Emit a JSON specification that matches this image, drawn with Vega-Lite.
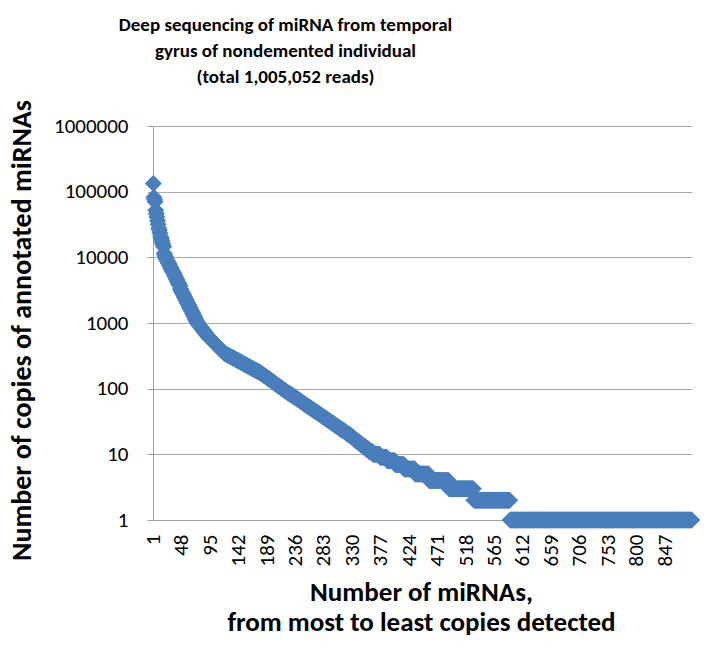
{
"$schema": "https://vega.github.io/schema/vega-lite/v6.json",
"width": 539,
"height": 394,
"autosize": {"type": "none"},
"padding": {"left": 153, "top": 126, "right": 22, "bottom": 126},
"background": "white",
"title": {"text": ["Deep sequencing of miRNA from temporal", "gyrus of nondemented individual", "(total 1,005,052 reads)"], "font": "Carlito, Lato, sans-serif", "fontSize": 19, "fontWeight": "bold", "color": "black", "lineHeight": 26, "anchor": "middle", "frame": "group", "dx": -137, "offset": 12},
"config": {"view": {"stroke": null}, "axis": {"labelFont": "Carlito, Lato, sans-serif", "labelColor": "black", "titleFont": "Carlito, Lato, sans-serif", "titleColor": "black", "titleFontWeight": "bold", "domainColor": "#A0A0A0", "tickColor": "#A0A0A0", "gridColor": "#A8A8A8", "gridOpacity": 1}},
"data": {"values": [
{"r":1,"v":133000},{"r":2,"v":82000},{"r":3,"v":76000},{"r":4,"v":70000},{"r":5,"v":52000},{"r":6,"v":46000},{"r":7,"v":41000},{"r":8,"v":36000},{"r":9,"v":32000},{"r":10,"v":28000},
{"r":11,"v":26000},{"r":12,"v":23500},{"r":13,"v":21000},{"r":14,"v":19500},{"r":15,"v":18000},{"r":16,"v":16500},{"r":17,"v":15500},{"r":18,"v":14500},{"r":19,"v":11500},{"r":20,"v":10800},
{"r":21,"v":10200},{"r":22,"v":9700},{"r":23,"v":9300},{"r":24,"v":8900},{"r":25,"v":8500},{"r":26,"v":8200},{"r":27,"v":7900},{"r":28,"v":7500},{"r":29,"v":7200},{"r":30,"v":6900},
{"r":31,"v":6600},{"r":32,"v":6400},{"r":33,"v":6100},{"r":34,"v":5900},{"r":35,"v":5650},{"r":36,"v":5400},{"r":37,"v":5150},{"r":38,"v":4900},{"r":39,"v":4700},{"r":40,"v":4500},
{"r":41,"v":4300},{"r":42,"v":4100},{"r":43,"v":3950},{"r":44,"v":3800},{"r":45,"v":3650},{"r":46,"v":3300},{"r":47,"v":3150},{"r":48,"v":3000},{"r":49,"v":2900},{"r":50,"v":2780},
{"r":51,"v":2660},{"r":52,"v":2550},{"r":53,"v":2450},{"r":54,"v":2350},{"r":55,"v":2250},{"r":56,"v":2150},{"r":57,"v":2070},{"r":58,"v":1980},{"r":59,"v":1900},{"r":60,"v":1830},
{"r":61,"v":1760},{"r":62,"v":1680},{"r":63,"v":1610},{"r":64,"v":1540},{"r":65,"v":1480},{"r":66,"v":1420},{"r":67,"v":1350},{"r":68,"v":1290},{"r":69,"v":1240},{"r":70,"v":1180},
{"r":71,"v":1130},{"r":72,"v":1080},{"r":73,"v":1040},{"r":74,"v":1000},{"r":75,"v":975},{"r":76,"v":950},{"r":77,"v":925},{"r":78,"v":900},{"r":79,"v":875},{"r":80,"v":850},
{"r":81,"v":830},{"r":82,"v":810},{"r":83,"v":790},{"r":84,"v":765},{"r":85,"v":745},{"r":86,"v":725},{"r":87,"v":705},{"r":88,"v":685},{"r":89,"v":665},{"r":90,"v":650},
{"r":91,"v":635},{"r":92,"v":620},{"r":93,"v":605},{"r":94,"v":590},{"r":95,"v":575},{"r":96,"v":563},{"r":97,"v":551},{"r":98,"v":540},{"r":99,"v":528},{"r":100,"v":517},
{"r":101,"v":506},{"r":102,"v":495},{"r":103,"v":484},{"r":104,"v":474},{"r":105,"v":464},{"r":106,"v":454},{"r":107,"v":444},{"r":108,"v":435},{"r":109,"v":426},{"r":110,"v":417},
{"r":111,"v":408},{"r":112,"v":399},{"r":113,"v":390},{"r":114,"v":382},{"r":115,"v":374},{"r":116,"v":366},{"r":117,"v":358},{"r":118,"v":351},{"r":119,"v":344},{"r":120,"v":340},
{"r":121,"v":336},{"r":122,"v":332},{"r":123,"v":328},{"r":124,"v":325},{"r":125,"v":321},{"r":126,"v":318},{"r":127,"v":314},{"r":128,"v":310},{"r":129,"v":307},{"r":130,"v":303},
{"r":131,"v":300},{"r":132,"v":296},{"r":133,"v":293},{"r":134,"v":290},{"r":135,"v":286},{"r":136,"v":283},{"r":137,"v":280},{"r":138,"v":277},{"r":139,"v":274},{"r":140,"v":271},
{"r":141,"v":268},{"r":142,"v":265},{"r":143,"v":262},{"r":144,"v":259},{"r":145,"v":256},{"r":146,"v":253},{"r":147,"v":250},{"r":148,"v":247},{"r":149,"v":244},{"r":150,"v":241},
{"r":151,"v":238},{"r":152,"v":236},{"r":153,"v":233},{"r":154,"v":230},{"r":155,"v":228},{"r":156,"v":225},{"r":157,"v":222},{"r":158,"v":220},{"r":159,"v":217},{"r":160,"v":215},
{"r":161,"v":212},{"r":162,"v":210},{"r":163,"v":207},{"r":164,"v":205},{"r":165,"v":203},{"r":166,"v":200},{"r":167,"v":198},{"r":168,"v":196},{"r":169,"v":193},{"r":170,"v":191},
{"r":171,"v":189},{"r":172,"v":187},{"r":173,"v":185},{"r":174,"v":183},{"r":175,"v":181},{"r":176,"v":179},{"r":177,"v":177},{"r":178,"v":174},{"r":179,"v":172},{"r":180,"v":169},
{"r":181,"v":167},{"r":182,"v":164},{"r":183,"v":162},{"r":184,"v":159},{"r":185,"v":157},{"r":186,"v":155},{"r":187,"v":152},{"r":188,"v":150},{"r":189,"v":148},{"r":190,"v":145},
{"r":191,"v":143},{"r":192,"v":141},{"r":193,"v":139},{"r":194,"v":137},{"r":195,"v":135},{"r":196,"v":133},{"r":197,"v":131},{"r":198,"v":129},{"r":199,"v":127},{"r":200,"v":125},
{"r":201,"v":123},{"r":202,"v":121},{"r":203,"v":119},{"r":204,"v":117},{"r":205,"v":115},{"r":206,"v":113},{"r":207,"v":112},{"r":208,"v":110},{"r":209,"v":108},{"r":210,"v":107},
{"r":211,"v":105},{"r":212,"v":103},{"r":213,"v":102},{"r":214,"v":100},{"r":215,"v":99},{"r":216,"v":97},{"r":217,"v":96},{"r":218,"v":94},{"r":219,"v":93},{"r":220,"v":92},
{"r":221,"v":90},{"r":222,"v":89},{"r":223,"v":87},{"r":224,"v":86},{"r":225,"v":85},{"r":226,"v":84},{"r":227,"v":83},{"r":228,"v":82},{"r":229,"v":81},{"r":230,"v":80},
{"r":231,"v":78},{"r":232,"v":77},{"r":233,"v":76},{"r":234,"v":75},{"r":235,"v":74},{"r":236,"v":73},{"r":237,"v":72},{"r":238,"v":71},{"r":239,"v":70},{"r":240,"v":69},
{"r":241,"v":68},{"r":242,"v":67},{"r":243,"v":66},{"r":244,"v":65},{"r":245,"v":64},{"r":246,"v":63},{"r":247,"v":62},{"r":248,"v":61},{"r":249,"v":60},{"r":250,"v":59},
{"r":251,"v":58},{"r":252,"v":58},{"r":253,"v":57},{"r":254,"v":56},{"r":255,"v":55},{"r":256,"v":54},{"r":257,"v":54},{"r":258,"v":53},{"r":259,"v":52},{"r":260,"v":51},
{"r":261,"v":51},{"r":262,"v":50},{"r":263,"v":49},{"r":264,"v":48},{"r":265,"v":48},{"r":266,"v":47},{"r":267,"v":46},{"r":268,"v":46},{"r":269,"v":45},{"r":270,"v":44},
{"r":271,"v":44},{"r":272,"v":43},{"r":273,"v":43},{"r":274,"v":42},{"r":275,"v":41},{"r":276,"v":41},{"r":277,"v":40},{"r":278,"v":40},{"r":279,"v":39},{"r":280,"v":38},
{"r":281,"v":38},{"r":282,"v":37},{"r":283,"v":37},{"r":284,"v":36},{"r":285,"v":36},{"r":286,"v":35},{"r":287,"v":35},{"r":288,"v":34},{"r":289,"v":34},{"r":290,"v":33},
{"r":291,"v":33},{"r":292,"v":32},{"r":293,"v":32},{"r":294,"v":31},{"r":295,"v":31},{"r":296,"v":30},{"r":297,"v":30},{"r":298,"v":30},{"r":299,"v":29},{"r":300,"v":29},
{"r":301,"v":28},{"r":302,"v":28},{"r":303,"v":27},{"r":304,"v":27},{"r":305,"v":27},{"r":306,"v":26},{"r":307,"v":26},{"r":308,"v":25},{"r":309,"v":25},{"r":310,"v":25},
{"r":311,"v":24},{"r":312,"v":24},{"r":313,"v":24},{"r":314,"v":23},{"r":315,"v":23},{"r":316,"v":23},{"r":317,"v":22},{"r":318,"v":22},{"r":319,"v":22},{"r":320,"v":21},
{"r":321,"v":21},{"r":322,"v":21},{"r":323,"v":20},{"r":324,"v":20},{"r":325,"v":20},{"r":326,"v":20},{"r":327,"v":19},{"r":328,"v":19},{"r":329,"v":19},{"r":330,"v":18},
{"r":331,"v":18},{"r":332,"v":18},{"r":333,"v":17},{"r":334,"v":17},{"r":335,"v":17},{"r":336,"v":16},{"r":337,"v":16},{"r":338,"v":16},{"r":339,"v":16},{"r":340,"v":15},
{"r":341,"v":15},{"r":342,"v":15},{"r":343,"v":15},{"r":344,"v":14},{"r":345,"v":14},{"r":346,"v":14},{"r":347,"v":14},{"r":348,"v":13},{"r":349,"v":13},{"r":350,"v":13},
{"r":351,"v":13},{"r":352,"v":13},{"r":353,"v":12},{"r":354,"v":12},{"r":355,"v":12},{"r":356,"v":12},{"r":357,"v":12},{"r":358,"v":11},{"r":359,"v":11},{"r":360,"v":11},
{"r":361,"v":11},{"r":362,"v":11},{"r":363,"v":11},{"r":364,"v":10},{"r":365,"v":10},{"r":366,"v":10},{"r":367,"v":10},{"r":368,"v":10},{"r":369,"v":10},{"r":370,"v":10},
{"r":371,"v":10},{"r":372,"v":10},{"r":373,"v":10},{"r":374,"v":10},{"r":375,"v":10},{"r":376,"v":9},{"r":377,"v":9},{"r":378,"v":9},{"r":379,"v":9},{"r":380,"v":9},
{"r":381,"v":9},{"r":382,"v":9},{"r":383,"v":9},{"r":384,"v":9},{"r":385,"v":9},{"r":386,"v":9},{"r":387,"v":9},{"r":388,"v":8},{"r":389,"v":8},{"r":390,"v":8},
{"r":391,"v":8},{"r":392,"v":8},{"r":393,"v":8},{"r":394,"v":8},{"r":395,"v":8},{"r":396,"v":8},{"r":397,"v":8},{"r":398,"v":8},{"r":399,"v":8},{"r":400,"v":8},
{"r":401,"v":7},{"r":402,"v":7},{"r":403,"v":7},{"r":404,"v":7},{"r":405,"v":7},{"r":406,"v":7},{"r":407,"v":7},{"r":408,"v":7},{"r":409,"v":7},{"r":410,"v":7},
{"r":411,"v":7},{"r":412,"v":7},{"r":413,"v":7},{"r":414,"v":7},{"r":415,"v":7},{"r":416,"v":6},{"r":417,"v":6},{"r":418,"v":6},{"r":419,"v":6},{"r":420,"v":6},
{"r":421,"v":6},{"r":422,"v":6},{"r":423,"v":6},{"r":424,"v":6},{"r":425,"v":6},{"r":426,"v":6},{"r":427,"v":6},{"r":428,"v":6},{"r":429,"v":6},{"r":430,"v":6},
{"r":431,"v":6},{"r":432,"v":6},{"r":433,"v":6},{"r":434,"v":5},{"r":435,"v":5},{"r":436,"v":5},{"r":437,"v":5},{"r":438,"v":5},{"r":439,"v":5},{"r":440,"v":5},
{"r":441,"v":5},{"r":442,"v":5},{"r":443,"v":5},{"r":444,"v":5},{"r":445,"v":5},{"r":446,"v":5},{"r":447,"v":5},{"r":448,"v":5},{"r":449,"v":5},{"r":450,"v":5},
{"r":451,"v":5},{"r":452,"v":5},{"r":453,"v":5},{"r":454,"v":5},{"r":455,"v":5},{"r":456,"v":5},{"r":457,"v":4},{"r":458,"v":4},{"r":459,"v":4},{"r":460,"v":4},
{"r":461,"v":4},{"r":462,"v":4},{"r":463,"v":4},{"r":464,"v":4},{"r":465,"v":4},{"r":466,"v":4},{"r":467,"v":4},{"r":468,"v":4},{"r":469,"v":4},{"r":470,"v":4},
{"r":471,"v":4},{"r":472,"v":4},{"r":473,"v":4},{"r":474,"v":4},{"r":475,"v":4},{"r":476,"v":4},{"r":477,"v":4},{"r":478,"v":4},{"r":479,"v":4},{"r":480,"v":4},
{"r":481,"v":4},{"r":482,"v":4},{"r":483,"v":4},{"r":484,"v":4},{"r":485,"v":4},{"r":486,"v":4},{"r":487,"v":4},{"r":488,"v":4},{"r":489,"v":4},{"r":490,"v":3},
{"r":491,"v":3},{"r":492,"v":3},{"r":493,"v":3},{"r":494,"v":3},{"r":495,"v":3},{"r":496,"v":3},{"r":497,"v":3},{"r":498,"v":3},{"r":499,"v":3},{"r":500,"v":3},
{"r":501,"v":3},{"r":502,"v":3},{"r":503,"v":3},{"r":504,"v":3},{"r":505,"v":3},{"r":506,"v":3},{"r":507,"v":3},{"r":508,"v":3},{"r":509,"v":3},{"r":510,"v":3},
{"r":511,"v":3},{"r":512,"v":3},{"r":513,"v":3},{"r":514,"v":3},{"r":515,"v":3},{"r":516,"v":3},{"r":517,"v":3},{"r":518,"v":3},{"r":519,"v":3},{"r":520,"v":3},
{"r":521,"v":3},{"r":522,"v":3},{"r":523,"v":3},{"r":524,"v":3},{"r":525,"v":3},{"r":526,"v":3},{"r":527,"v":3},{"r":528,"v":3},{"r":529,"v":3},{"r":530,"v":3},
{"r":531,"v":2},{"r":532,"v":2},{"r":533,"v":2},{"r":534,"v":2},{"r":535,"v":2},{"r":536,"v":2},{"r":537,"v":2},{"r":538,"v":2},{"r":539,"v":2},{"r":540,"v":2},
{"r":541,"v":2},{"r":542,"v":2},{"r":543,"v":2},{"r":544,"v":2},{"r":545,"v":2},{"r":546,"v":2},{"r":547,"v":2},{"r":548,"v":2},{"r":549,"v":2},{"r":550,"v":2},
{"r":551,"v":2},{"r":552,"v":2},{"r":553,"v":2},{"r":554,"v":2},{"r":555,"v":2},{"r":556,"v":2},{"r":557,"v":2},{"r":558,"v":2},{"r":559,"v":2},{"r":560,"v":2},
{"r":561,"v":2},{"r":562,"v":2},{"r":563,"v":2},{"r":564,"v":2},{"r":565,"v":2},{"r":566,"v":2},{"r":567,"v":2},{"r":568,"v":2},{"r":569,"v":2},{"r":570,"v":2},
{"r":571,"v":2},{"r":572,"v":2},{"r":573,"v":2},{"r":574,"v":2},{"r":575,"v":2},{"r":576,"v":2},{"r":577,"v":2},{"r":578,"v":2},{"r":579,"v":2},{"r":580,"v":2},
{"r":581,"v":2},{"r":582,"v":2},{"r":583,"v":2},{"r":584,"v":2},{"r":585,"v":2},{"r":586,"v":2},{"r":587,"v":2},{"r":588,"v":2},{"r":589,"v":2},{"r":590,"v":2},
{"r":591,"v":1},{"r":592,"v":1},{"r":593,"v":1},{"r":594,"v":1},{"r":595,"v":1},{"r":596,"v":1},{"r":597,"v":1},{"r":598,"v":1},{"r":599,"v":1},{"r":600,"v":1},
{"r":601,"v":1},{"r":602,"v":1},{"r":603,"v":1},{"r":604,"v":1},{"r":605,"v":1},{"r":606,"v":1},{"r":607,"v":1},{"r":608,"v":1},{"r":609,"v":1},{"r":610,"v":1},
{"r":611,"v":1},{"r":612,"v":1},{"r":613,"v":1},{"r":614,"v":1},{"r":615,"v":1},{"r":616,"v":1},{"r":617,"v":1},{"r":618,"v":1},{"r":619,"v":1},{"r":620,"v":1},
{"r":621,"v":1},{"r":622,"v":1},{"r":623,"v":1},{"r":624,"v":1},{"r":625,"v":1},{"r":626,"v":1},{"r":627,"v":1},{"r":628,"v":1},{"r":629,"v":1},{"r":630,"v":1},
{"r":631,"v":1},{"r":632,"v":1},{"r":633,"v":1},{"r":634,"v":1},{"r":635,"v":1},{"r":636,"v":1},{"r":637,"v":1},{"r":638,"v":1},{"r":639,"v":1},{"r":640,"v":1},
{"r":641,"v":1},{"r":642,"v":1},{"r":643,"v":1},{"r":644,"v":1},{"r":645,"v":1},{"r":646,"v":1},{"r":647,"v":1},{"r":648,"v":1},{"r":649,"v":1},{"r":650,"v":1},
{"r":651,"v":1},{"r":652,"v":1},{"r":653,"v":1},{"r":654,"v":1},{"r":655,"v":1},{"r":656,"v":1},{"r":657,"v":1},{"r":658,"v":1},{"r":659,"v":1},{"r":660,"v":1},
{"r":661,"v":1},{"r":662,"v":1},{"r":663,"v":1},{"r":664,"v":1},{"r":665,"v":1},{"r":666,"v":1},{"r":667,"v":1},{"r":668,"v":1},{"r":669,"v":1},{"r":670,"v":1},
{"r":671,"v":1},{"r":672,"v":1},{"r":673,"v":1},{"r":674,"v":1},{"r":675,"v":1},{"r":676,"v":1},{"r":677,"v":1},{"r":678,"v":1},{"r":679,"v":1},{"r":680,"v":1},
{"r":681,"v":1},{"r":682,"v":1},{"r":683,"v":1},{"r":684,"v":1},{"r":685,"v":1},{"r":686,"v":1},{"r":687,"v":1},{"r":688,"v":1},{"r":689,"v":1},{"r":690,"v":1},
{"r":691,"v":1},{"r":692,"v":1},{"r":693,"v":1},{"r":694,"v":1},{"r":695,"v":1},{"r":696,"v":1},{"r":697,"v":1},{"r":698,"v":1},{"r":699,"v":1},{"r":700,"v":1},
{"r":701,"v":1},{"r":702,"v":1},{"r":703,"v":1},{"r":704,"v":1},{"r":705,"v":1},{"r":706,"v":1},{"r":707,"v":1},{"r":708,"v":1},{"r":709,"v":1},{"r":710,"v":1},
{"r":711,"v":1},{"r":712,"v":1},{"r":713,"v":1},{"r":714,"v":1},{"r":715,"v":1},{"r":716,"v":1},{"r":717,"v":1},{"r":718,"v":1},{"r":719,"v":1},{"r":720,"v":1},
{"r":721,"v":1},{"r":722,"v":1},{"r":723,"v":1},{"r":724,"v":1},{"r":725,"v":1},{"r":726,"v":1},{"r":727,"v":1},{"r":728,"v":1},{"r":729,"v":1},{"r":730,"v":1},
{"r":731,"v":1},{"r":732,"v":1},{"r":733,"v":1},{"r":734,"v":1},{"r":735,"v":1},{"r":736,"v":1},{"r":737,"v":1},{"r":738,"v":1},{"r":739,"v":1},{"r":740,"v":1},
{"r":741,"v":1},{"r":742,"v":1},{"r":743,"v":1},{"r":744,"v":1},{"r":745,"v":1},{"r":746,"v":1},{"r":747,"v":1},{"r":748,"v":1},{"r":749,"v":1},{"r":750,"v":1},
{"r":751,"v":1},{"r":752,"v":1},{"r":753,"v":1},{"r":754,"v":1},{"r":755,"v":1},{"r":756,"v":1},{"r":757,"v":1},{"r":758,"v":1},{"r":759,"v":1},{"r":760,"v":1},
{"r":761,"v":1},{"r":762,"v":1},{"r":763,"v":1},{"r":764,"v":1},{"r":765,"v":1},{"r":766,"v":1},{"r":767,"v":1},{"r":768,"v":1},{"r":769,"v":1},{"r":770,"v":1},
{"r":771,"v":1},{"r":772,"v":1},{"r":773,"v":1},{"r":774,"v":1},{"r":775,"v":1},{"r":776,"v":1},{"r":777,"v":1},{"r":778,"v":1},{"r":779,"v":1},{"r":780,"v":1},
{"r":781,"v":1},{"r":782,"v":1},{"r":783,"v":1},{"r":784,"v":1},{"r":785,"v":1},{"r":786,"v":1},{"r":787,"v":1},{"r":788,"v":1},{"r":789,"v":1},{"r":790,"v":1},
{"r":791,"v":1},{"r":792,"v":1},{"r":793,"v":1},{"r":794,"v":1},{"r":795,"v":1},{"r":796,"v":1},{"r":797,"v":1},{"r":798,"v":1},{"r":799,"v":1},{"r":800,"v":1},
{"r":801,"v":1},{"r":802,"v":1},{"r":803,"v":1},{"r":804,"v":1},{"r":805,"v":1},{"r":806,"v":1},{"r":807,"v":1},{"r":808,"v":1},{"r":809,"v":1},{"r":810,"v":1},
{"r":811,"v":1},{"r":812,"v":1},{"r":813,"v":1},{"r":814,"v":1},{"r":815,"v":1},{"r":816,"v":1},{"r":817,"v":1},{"r":818,"v":1},{"r":819,"v":1},{"r":820,"v":1},
{"r":821,"v":1},{"r":822,"v":1},{"r":823,"v":1},{"r":824,"v":1},{"r":825,"v":1},{"r":826,"v":1},{"r":827,"v":1},{"r":828,"v":1},{"r":829,"v":1},{"r":830,"v":1},
{"r":831,"v":1},{"r":832,"v":1},{"r":833,"v":1},{"r":834,"v":1},{"r":835,"v":1},{"r":836,"v":1},{"r":837,"v":1},{"r":838,"v":1},{"r":839,"v":1},{"r":840,"v":1},
{"r":841,"v":1},{"r":842,"v":1},{"r":843,"v":1},{"r":844,"v":1},{"r":845,"v":1},{"r":846,"v":1},{"r":847,"v":1},{"r":848,"v":1},{"r":849,"v":1},{"r":850,"v":1},
{"r":851,"v":1},{"r":852,"v":1},{"r":853,"v":1},{"r":854,"v":1},{"r":855,"v":1},{"r":856,"v":1},{"r":857,"v":1},{"r":858,"v":1},{"r":859,"v":1},{"r":860,"v":1},
{"r":861,"v":1},{"r":862,"v":1},{"r":863,"v":1},{"r":864,"v":1},{"r":865,"v":1},{"r":866,"v":1},{"r":867,"v":1},{"r":868,"v":1},{"r":869,"v":1},{"r":870,"v":1},
{"r":871,"v":1},{"r":872,"v":1},{"r":873,"v":1},{"r":874,"v":1},{"r":875,"v":1},{"r":876,"v":1},{"r":877,"v":1},{"r":878,"v":1},{"r":879,"v":1},{"r":880,"v":1},
{"r":881,"v":1},{"r":882,"v":1},{"r":883,"v":1},{"r":884,"v":1},{"r":885,"v":1},{"r":886,"v":1},{"r":887,"v":1},{"r":888,"v":1},{"r":889,"v":1},{"r":890,"v":1},
{"r":891,"v":1}
]},
"mark": {"type": "point", "shape": "diamond", "filled": true, "size": 290, "color": "#4A7EBB", "opacity": 1, "clip": false},
"encoding": {
"x": {"field": "r", "type": "quantitative", "scale": {"domain": [0.5, 891.5], "nice": false, "zero": false},
 "axis": {"values": [1,48,95,142,189,236,283,330,377,424,471,518,565,612,659,706,753,800,847], "labelAngle": -90, "labelFontSize": 21, "labelPadding": 14, "ticks": false, "tickSize": 0, "grid": false, "labelOverlap": false, "labelFlush": false,
 "title": ["Number of miRNAs,", "from most to least  copies detected"], "titleFontSize": 27, "titleLineHeight": 30, "titleBaseline": "top", "titleY": 59, "titleX": 268}},
"y": {"field": "v", "type": "quantitative", "scale": {"type": "log", "domain": [1, 1000000], "nice": false},
 "axis": {"values": [1,10,100,1000,10000,100000,1000000], "format": "d", "labelFontSize": 21, "labelPadding": 19, "tickSize": 6, "grid": true, "labelOverlap": false,
 "title": "Number of copies of annotated miRNAs", "titleFontSize": 28, "titleAngle": -90, "titleAlign": "center", "titleBaseline": "middle", "titleX": -131, "titleY": 204}}
}
}
